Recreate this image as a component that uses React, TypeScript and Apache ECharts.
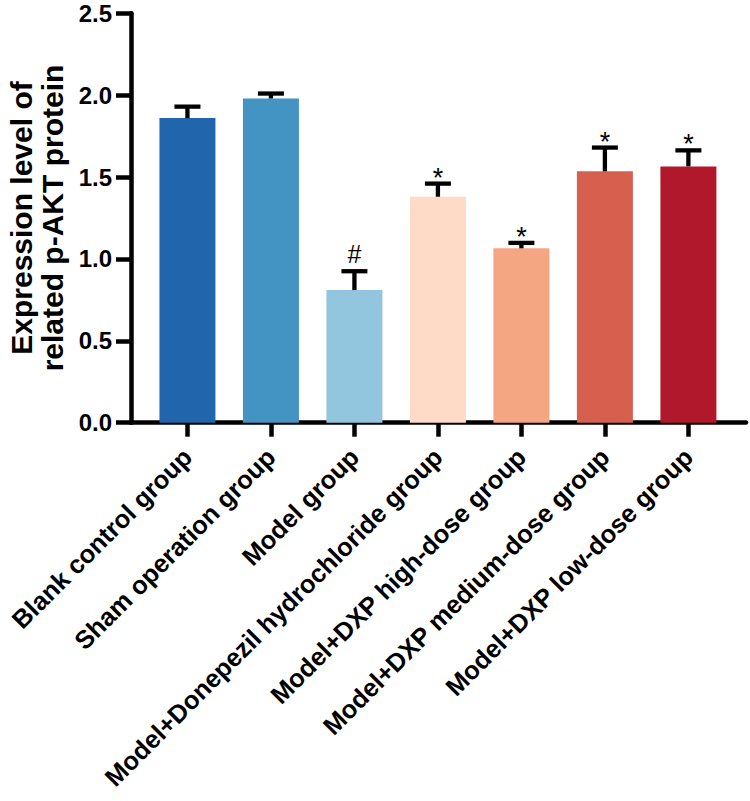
import React, { useEffect, useRef } from "react";
import * as echarts from "echarts";

const categories = [
  "Blank control group",
  "Sham operation group",
  "Model group",
  "Model+Donepezil hydrochloride group",
  "Model+DXP high-dose group",
  "Model+DXP medium-dose group",
  "Model+DXP low-dose group",
];
const means = [1.86, 1.98, 0.81, 1.38, 1.065, 1.535, 1.565];
const errors = [0.07, 0.03, 0.115, 0.08, 0.033, 0.145, 0.098];
const marks = ["", "", "#", "*", "*", "*", "*"];
const colors = ["#2166ac", "#4393c3", "#92c5de", "#fddbc7", "#f4a582", "#d6604d", "#b2182b"];

const FONT = "Arial, 'Liberation Sans', sans-serif";

export default function App() {
  const ref = useRef<HTMLDivElement>(null);
  useEffect(() => {
    if (!ref.current) return;
    const chart = echarts.init(ref.current, undefined, { renderer: "svg" });
    const idx = categories.map((_, i) => i);
    chart.setOption({
      animation: false,
      backgroundColor: "#ffffff",
      grid: {
        left: 131,
        right: 4,
        top: 13.3,
        bottom: 378.3,
        containLabel: false,
        outerBoundsMode: "none",
      },
      xAxis: {
        type: "value",
        min: -0.676,
        max: 6.69,
        splitLine: { show: false },
        axisLine: { show: true, onZero: false, lineStyle: { color: "#000", width: 4.5 } },
        axisTick: {
          show: true,
          customValues: idx,
          length: 14,
          lineStyle: { color: "#000", width: 4.5 },
        },
        axisLabel: {
          customValues: idx,
          rotate: 45,
          margin: 30,
          color: "#000",
          fontWeight: "bold",
          fontSize: 25.5,
          fontFamily: FONT,
          formatter: (v: number) => categories[Math.round(v)] ?? "",
        },
      },
      yAxis: {
        type: "value",
        min: 0,
        max: 2.5,
        interval: 0.5,
        splitLine: { show: false },
        axisLine: { show: true, onZero: false, lineStyle: { color: "#000", width: 4.5 } },
        axisTick: { show: true, length: 15, lineStyle: { color: "#000", width: 4.5 } },
        axisLabel: {
          margin: 19,
          color: "#000",
          fontWeight: "bold",
          fontSize: 24,
          fontFamily: FONT,
          formatter: (v: number) => v.toFixed(1),
        },
        name: "Expression level of\nrelated p-AKT protein",
        nameLocation: "middle",
        nameRotate: 90,
        nameGap: 62,
        nameTextStyle: {
          color: "#000",
          fontWeight: "bold",
          fontSize: 30,
          lineHeight: 31,
          fontFamily: FONT,
        },
      },
      series: [
        {
          type: "bar",
          barWidth: 56,
          data: means.map((v, i) => ({ value: [i, v], itemStyle: { color: colors[i] } })),
          z: 1,
        },
        {
          type: "custom",
          z: 5,
          data: means.map((v, i) => [i, v, errors[i]]),
          renderItem: (params: any, api: any) => {
            const x = api.value(0);
            const v = api.value(1);
            const e = api.value(2);
            const top = api.coord([x, v]);
            const cap = api.coord([x, v + e]);
            const half = 13;
            const children: any[] = [
              {
                type: "line",
                shape: { x1: top[0], y1: top[1], x2: cap[0], y2: cap[1] },
                style: { stroke: "#000", lineWidth: 4.3 },
              },
              {
                type: "line",
                shape: { x1: cap[0] - half, y1: cap[1], x2: cap[0] + half, y2: cap[1] },
                style: { stroke: "#000", lineWidth: 4.3 },
              },
            ];
            const m = marks[params.dataIndex];
            if (m) {
              children.push({
                type: "text",
                x: cap[0],
                y: cap[1] - (m === "#" ? 17 : 6),
                style: {
                  text: m,
                  fill: "#000",
                  fontSize: m === "#" ? 25 : 27,
                  fontFamily: FONT,
                  align: "center",
                  verticalAlign: "middle",
                },
              });
            }
            return { type: "group", children };
          },
        },
      ],
    });
    return () => chart.dispose();
  }, []);
  return (
    <div
      ref={ref}
      style={{ position: "absolute", left: 0, top: 0, width: 750, height: 801, background: "#fff" }}
    />
  );
}
